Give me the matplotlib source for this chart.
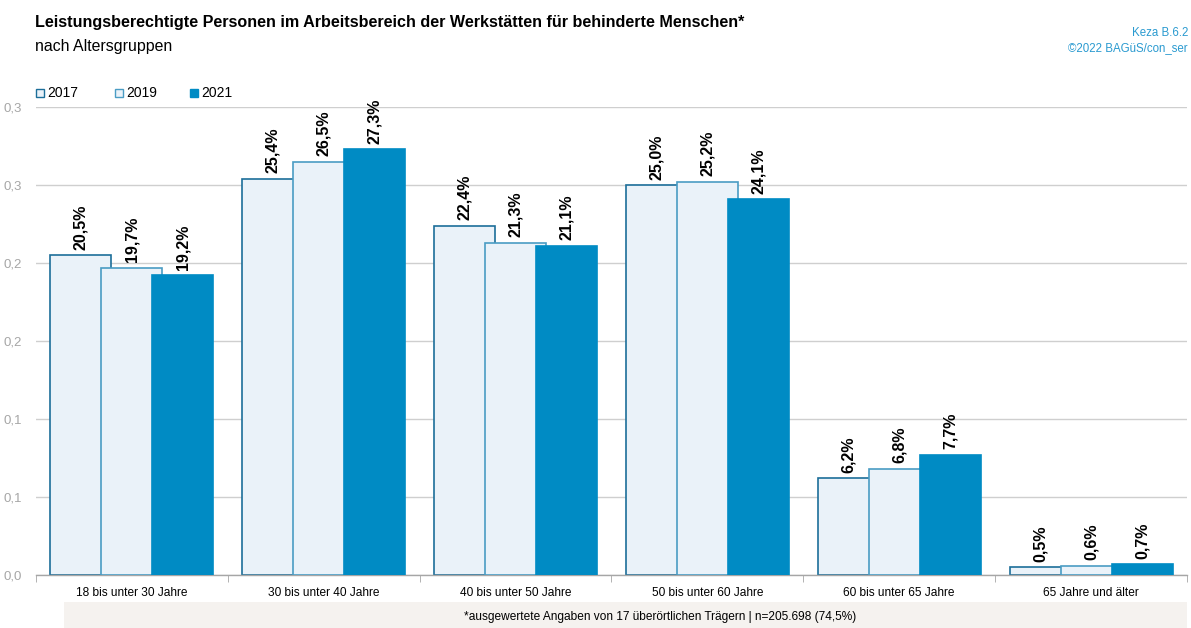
import matplotlib
matplotlib.use("Agg")
import matplotlib.pyplot as plt
from matplotlib.patches import Rectangle
import numpy as np

categories = ["18 bis unter 30 Jahre", "30 bis unter 40 Jahre", "40 bis unter 50 Jahre",
              "50 bis unter 60 Jahre", "60 bis unter 65 Jahre", "65 Jahre und älter"]
years = ["2017", "2019", "2021"]
v2017 = [20.5, 25.4, 22.4, 25.0, 6.2, 0.5]
v2019 = [19.7, 26.5, 21.3, 25.2, 6.8, 0.6]
v2021 = [19.2, 27.3, 21.1, 24.1, 7.7, 0.7]
series = [v2017, v2019, v2021]
yticks = [0.0, 0.05, 0.10, 0.15, 0.20, 0.25, 0.30]
ytick_labels = ["0,0", "0,1", "0,1", "0,2", "0,2", "0,3", "0,3"]

FAM = ['Liberation Sans Narrow', 'Liberation Sans', 'DejaVu Sans']
plt.rcParams['font.family'] = FAM

fills = ["#EAF2F9", "#EAF2F9", "#008BC4"]
edges = ["#1C6E99", "#4A9CC4", "#008BC4"]

W, H = 1191, 628
fig = plt.figure(figsize=(W/100, H/100), dpi=100)
ax = fig.add_axes([36/W, (H-575)/H, (1187-36)/W, (575-107)/H])

x = np.arange(len(categories))
bw = 0.318
off = 0.266
for i, vals in enumerate(series):
    fr = np.array(vals) / 100.0
    ax.bar(x + (i-1)*off, fr, width=bw, color=fills[i], edgecolor=edges[i],
           linewidth=1.2, zorder=2+i)
    for xi, v in zip(x, vals):
        ax.text(xi + (i-1)*off, v/100 + 0.0035, f"{v:.1f}%".replace('.', ','),
                rotation=90, ha='center', va='bottom', fontsize=11.5,
                fontweight='bold', color='black', zorder=10)

ax.set_xlim(-0.5, len(categories)-0.5)
ax.set_ylim(0, 0.30)
ax.set_yticks(yticks)
ax.set_yticklabels(ytick_labels, color="#A6A6A6", fontsize=9.5)
ax.tick_params(axis='y', length=0, pad=10)
ax.yaxis.grid(True, color="#CFCFCF", linewidth=1.0, zorder=0)
ax.set_axisbelow(True)
ax.set_xticks(x)
ax.set_xticklabels(categories, fontsize=8.6, color='black')
ax.tick_params(axis='x', length=0, pad=9)
ax.set_xticks(np.arange(-0.5, len(categories)-0.4, 1), minor=True)
ax.tick_params(axis='x', which='minor', length=5, color="#A6A6A6")
for s in ['top', 'right', 'left']:
    ax.spines[s].set_visible(False)
ax.spines['bottom'].set_color("#A6A6A6")
ax.spines['bottom'].set_linewidth(1.0)

# titles
fig.text(35/W, 1-22/H, "Leistungsberechtigte Personen im Arbeitsbereich der Werkstätten für behinderte Menschen*",
         fontsize=11.6, fontweight='bold', ha='left', va='center')
fig.text(35/W, 1-46/H, "nach Altersgruppen", fontsize=11.4, ha='left', va='center')
fig.text(1188/W, 1-33/H, "Keza B.6.2", fontsize=8.3, ha='right', va='center', color="#2A9AD0")
fig.text(1188/W, 1-48/H, "©2022 BAGüS/con_ser", fontsize=8.3, ha='right', va='center', color="#2A9AD0")

# legend
leg_x = [36, 115, 190]
for lx, yr, f, e in zip(leg_x, years, fills, edges):
    fig.patches.append(Rectangle((lx/W, 1-97/H), 8/W, 8/H, transform=fig.transFigure,
                                 facecolor=f, edgecolor=e, linewidth=1.0))
    fig.text((lx+11)/W, 1-93/H, yr, fontsize=10, ha='left', va='center')

# footnote band
fig.patches.append(Rectangle((64/W, 0), (1187-64)/W, (628-602)/H, transform=fig.transFigure,
                             facecolor="#F5F2EF", edgecolor='none', zorder=0))
fig.text(660/W, 1-617/H, "*ausgewertete Angaben von 17 überörtlichen Trägern | n=205.698 (74,5%)",
         fontsize=8.6, ha='center', va='center')

fig.savefig("out.png", dpi=100)
